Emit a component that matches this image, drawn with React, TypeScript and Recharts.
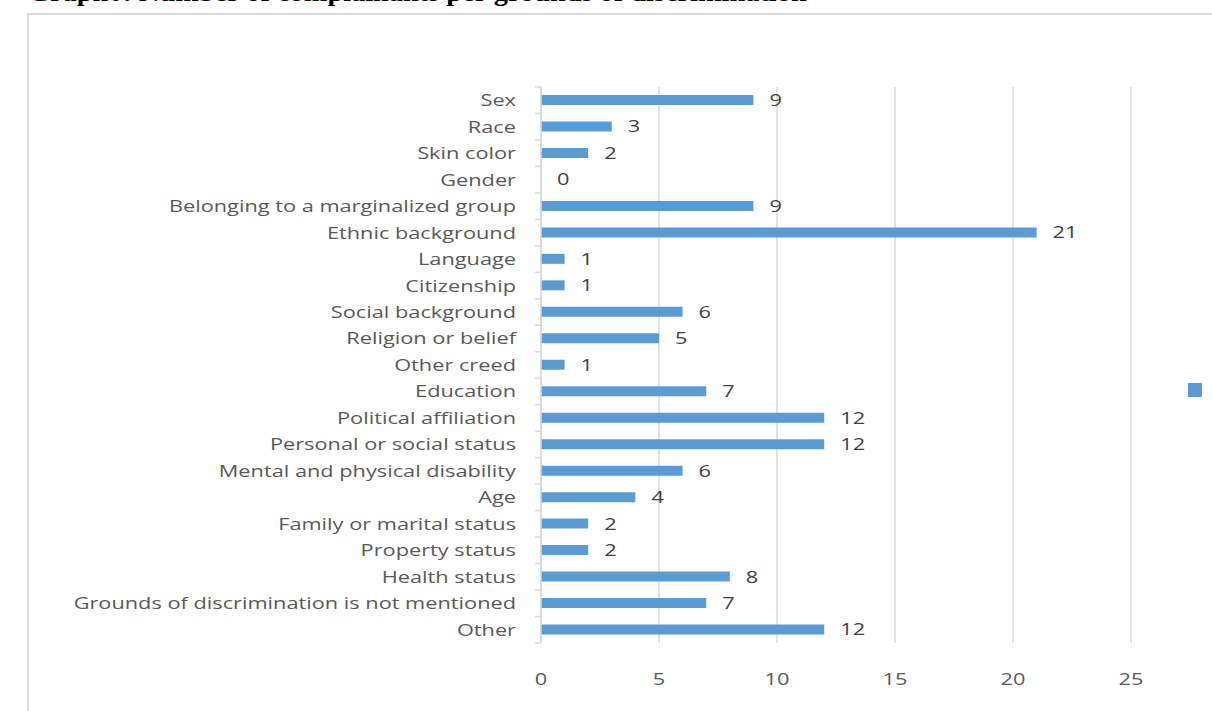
import React from "react";
import { BarChart, Bar, XAxis, YAxis, CartesianGrid, LabelList, Legend } from "recharts";

const categories = [
  "Sex", "Race", "Skin color", "Gender", "Belonging to a marginalized group",
  "Ethnic background", "Language", "Citizenship", "Social background",
  "Religion or belief", "Other creed", "Education", "Political affiliation",
  "Personal or social status", "Mental and physical disability", "Age",
  "Family or marital status", "Property status", "Health status",
  "Grounds of discrimination is not mentioned", "Other",
];
const values = [9, 3, 2, 0, 9, 21, 1, 1, 6, 5, 1, 7, 12, 12, 6, 4, 2, 2, 8, 7, 12];
const xTicks = [0, 5, 10, 15, 20, 25];
const title = "Graph6: Number of complainants per grounds of discrimination";

const data = categories.map((c, i) => ({ name: c, value: values[i] }));

const W = 1212;
const H = 711;
const M_TOP = 87;
const M_BOTTOM = 18;
const X_AXIS_H = 50;
const Y_AXIS_W = 541;
const PLOT_H = H - M_TOP - M_BOTTOM - X_AXIS_H;
const STEP = PLOT_H / categories.length;
const FONT = "'Open Sans', sans-serif";
const SX = 1.28;

const StretchText = ({ x, y, anchor, fill, children }: any) => (
  <text
    x={0}
    y={0}
    dy="0.35em"
    textAnchor={anchor}
    fill={fill}
    fontSize={17}
    fontFamily={FONT}
    transform={`translate(${x},${y}) scale(${SX},1)`}
  >
    {children}
  </text>
);

const YTick = (props: any) => {
  const { y, payload, index } = props;
  const ax = Y_AXIS_W;
  return (
    <g>
      <StretchText x={ax - 25} y={y} anchor="end" fill="#595959">
        {payload.value}
      </StretchText>
      <line x1={ax - 6} x2={ax} y1={y - STEP / 2} y2={y - STEP / 2} stroke="#d9d9d9" strokeWidth={1.5} />
      {index === categories.length - 1 && (
        <line x1={ax - 6} x2={ax} y1={y + STEP / 2} y2={y + STEP / 2} stroke="#d9d9d9" strokeWidth={1.5} />
      )}
    </g>
  );
};

const XTick = (props: any) => {
  const { x, y, payload } = props;
  return (
    <StretchText x={x} y={y + 8} anchor="middle" fill="#595959">
      {payload.value}
    </StretchText>
  );
};

const ValueLabel = (props: any) => {
  const { x, y, width, height, value } = props;
  return (
    <StretchText x={x + width + 16} y={y + height / 2} anchor="start" fill="#404040">
      {value}
    </StretchText>
  );
};

export default function App() {
  return (
    <div style={{ position: "absolute", left: 0, top: 0, width: W, height: H, overflow: "hidden", background: "#fff" }}>
      <div
        style={{
          position: "absolute",
          left: 28,
          top: -22,
          fontFamily: "'Liberation Serif', serif",
          fontWeight: "bold",
          fontSize: 26,
          whiteSpace: "nowrap",
          color: "#000",
          transformOrigin: "0 0",
          transform: "scaleX(1.09)",
        }}
      >
        {title}
      </div>
      <div
        style={{
          position: "absolute",
          left: 27,
          top: 13,
          width: 1300,
          height: 800,
          border: "2px solid #d9d9d9",
          boxSizing: "border-box",
        }}
      />
      <div style={{ position: "absolute", left: 0, top: 0 }}>
        <BarChart
          width={W}
          height={H}
          data={data}
          layout="vertical"
          margin={{ top: M_TOP, right: 53, bottom: M_BOTTOM, left: 0 }}
        >
          <CartesianGrid horizontal={false} vertical={true} stroke="#d9d9d9" strokeWidth={1.5} />
          <XAxis
            type="number"
            domain={[0, 25]}
            ticks={xTicks}
            axisLine={false}
            tickLine={false}
            tickSize={0}
            tickMargin={28}
            height={X_AXIS_H}
            tick={<XTick />}
          />
          <YAxis
            type="category"
            dataKey="name"
            width={Y_AXIS_W}
            axisLine={{ stroke: "#d9d9d9", strokeWidth: 1.5 }}
            tickLine={false}
            interval={0}
            tick={<YTick />}
          />
          <Legend
            layout="vertical"
            align="right"
            verticalAlign="top"
            iconType="square"
            iconSize={14}
            formatter={() => ""}
            wrapperStyle={{ top: 382, right: -4, lineHeight: "14px" }}
          />
          <Bar
            dataKey="value"
            name=" "
            fill="#5B9BD5"
            barSize={10}
            minPointSize={(v: number) => (v === 0 ? 0.01 : 0)}
            isAnimationActive={false}
          >
            <LabelList dataKey="value" content={<ValueLabel />} />
          </Bar>
        </BarChart>
      </div>
    </div>
  );
}
